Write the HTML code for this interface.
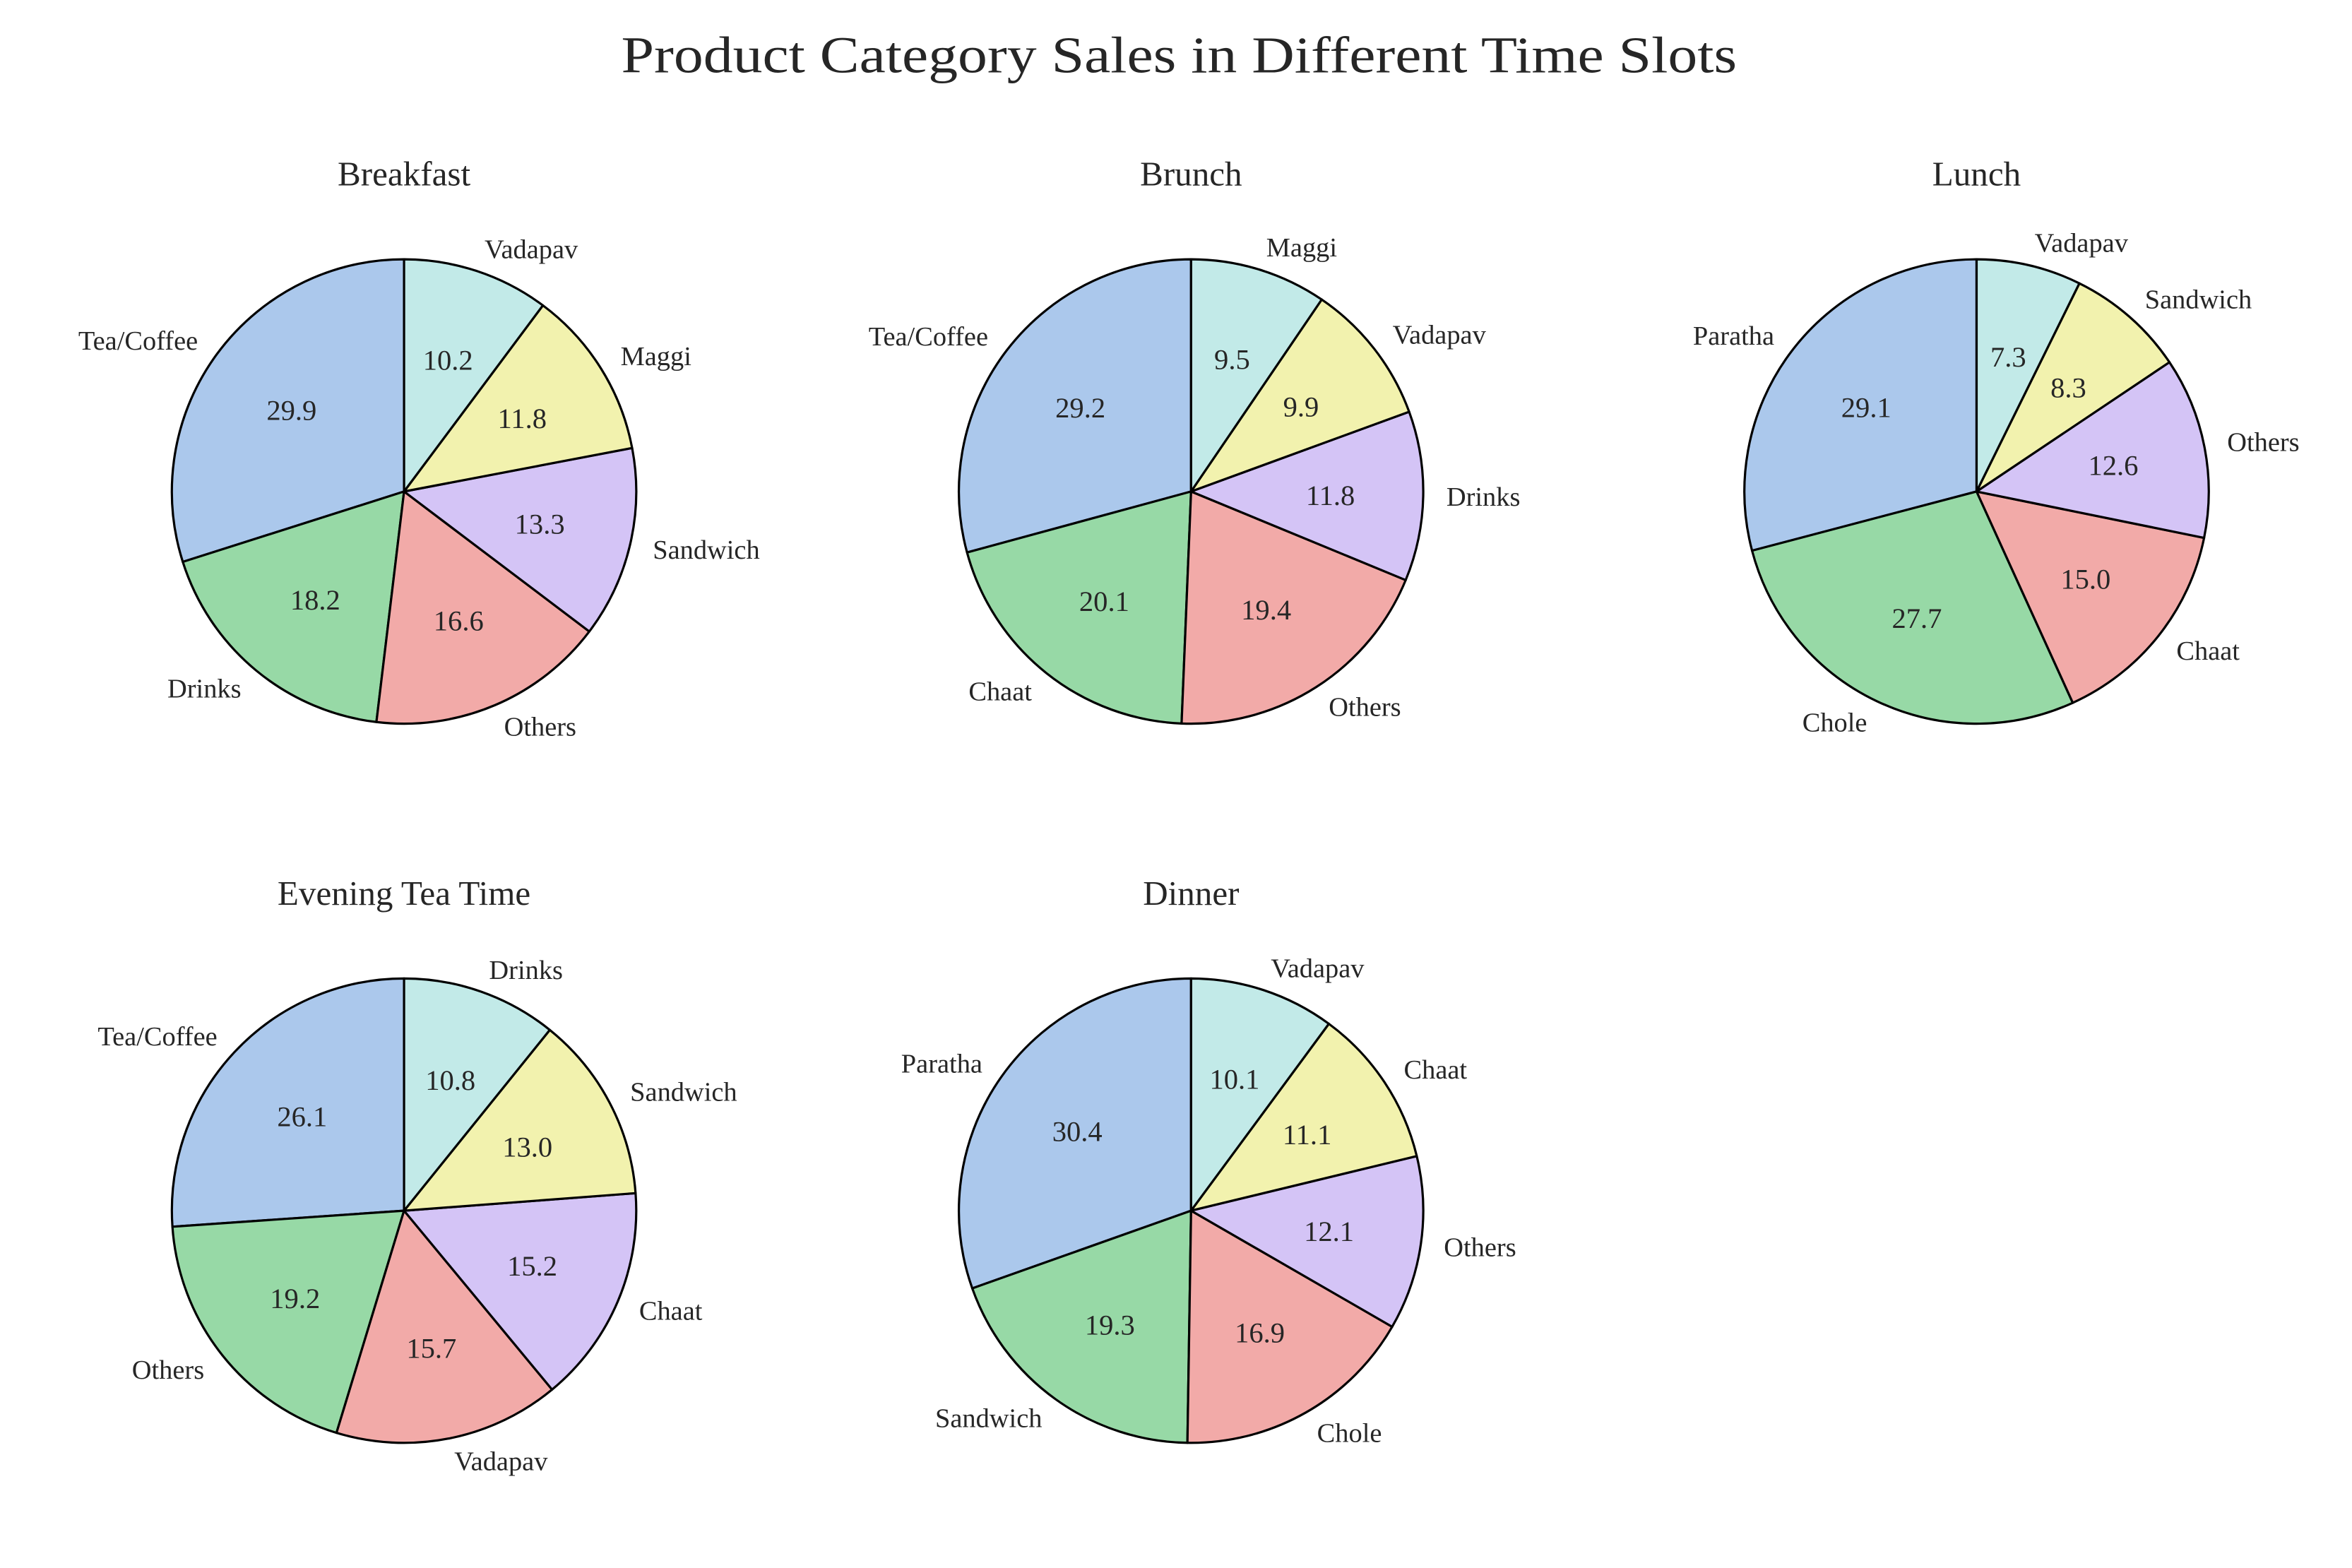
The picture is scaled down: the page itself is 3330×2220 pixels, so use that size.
<!DOCTYPE html>
<html><head><meta charset="utf-8"><style>
html,body{margin:0;padding:0;background:#fff;}
svg{display:block;}
text{font-family:"Liberation Serif","DejaVu Serif",serif;fill:#262626;}
</style></head><body>
<svg id="chart" width="3330" height="2220" viewBox="0 0 1560 1040" xmlns="http://www.w3.org/2000/svg">
<rect width="1560" height="1040" fill="#fff"/>
<text x="782" y="48" text-anchor="middle" font-size="34" textLength="740" lengthAdjust="spacingAndGlyphs">Product Category Sales in Different Time Slots</text>
</svg>
<script>
const slotTitles = ["Breakfast","Brunch","Lunch","Evening Tea Time","Dinner"];
const breakfastLabels = ["Tea/Coffee","Drinks","Others","Sandwich","Maggi","Vadapav"];
const breakfastValues = [29.9,18.2,16.6,13.3,11.8,10.2];
const brunchLabels = ["Tea/Coffee","Chaat","Others","Drinks","Vadapav","Maggi"];
const brunchValues = [29.2,20.1,19.4,11.8,9.9,9.5];
const lunchLabels = ["Paratha","Chole","Chaat","Others","Sandwich","Vadapav"];
const lunchValues = [29.1,27.7,15.0,12.6,8.3,7.3];
const eveningLabels = ["Tea/Coffee","Others","Vadapav","Chaat","Sandwich","Drinks"];
const eveningValues = [26.1,19.2,15.7,15.2,13.0,10.8];
const dinnerLabels = ["Paratha","Sandwich","Chole","Others","Chaat","Vadapav"];
const dinnerValues = [30.4,19.3,16.9,12.1,11.1,10.1];

const allLabels=[breakfastLabels,brunchLabels,lunchLabels,eveningLabels,dinnerLabels];
const allValues=[breakfastValues,brunchValues,lunchValues,eveningValues,dinnerValues];
const centers=[[268,326],[790,326],[1311,326],[268,803],[790,803]];
const colors=["#abc8ec","#97d9a6","#f2aaa8","#d4c4f6","#f2f2ae","#c2eae8"];
const R=154, NS="http://www.w3.org/2000/svg";
const svg=document.getElementById('chart');
function mk(tag,attrs){const e=document.createElementNS(NS,tag);for(const k in attrs)e.setAttribute(k,attrs[k]);return e;}
function slug(s){return s.toLowerCase().replace(/[^a-z0-9]+/g,'-').replace(/-$/,'');}
allValues.forEach((vals,i)=>{
  const [cx,cy]=centers[i];
  const g=mk('g',{});
  
  
  svg.appendChild(g);
  const t=mk('text',{x:cx,y:cy-203,'text-anchor':'middle','font-size':'23'});
  t.textContent=slotTitles[i];
  
  
  g.appendChild(t);
  const total=vals.reduce((a,b)=>a+b,0);
  let ang=90;
  vals.forEach((v,j)=>{
    const sweep=v/total*360, a0=ang*Math.PI/180, a1=(ang+sweep)*Math.PI/180;
    const x0=cx+R*Math.cos(a0), y0=cy-R*Math.sin(a0), x1=cx+R*Math.cos(a1), y1=cy-R*Math.sin(a1);
    const p=mk('path',{d:`M${cx},${cy} L${x0},${y0} A${R},${R} 0 ${sweep>180?1:0} 0 ${x1},${y1} Z`,fill:colors[j],stroke:'#000','stroke-width':'1.5','stroke-linejoin':'round'});
    
    
    g.appendChild(p);
    const mid=(ang+sweep/2)*Math.PI/180, c=Math.cos(mid), s=Math.sin(mid);
    const pt=mk('text',{x:cx+0.6*R*c,y:cy-0.6*R*s+7,'text-anchor':'middle','font-size':'19'});
    pt.textContent=v.toFixed(1);
    
    
    g.appendChild(pt);
    const lt=mk('text',{x:cx+1.1*R*c,y:cy-1.1*R*s+6,'text-anchor':c>=0?'start':'end','font-size':'18'});
    lt.textContent=allLabels[i][j];
    
    
    g.appendChild(lt);
    ang+=sweep;
  });
});
</script>
</body></html>
